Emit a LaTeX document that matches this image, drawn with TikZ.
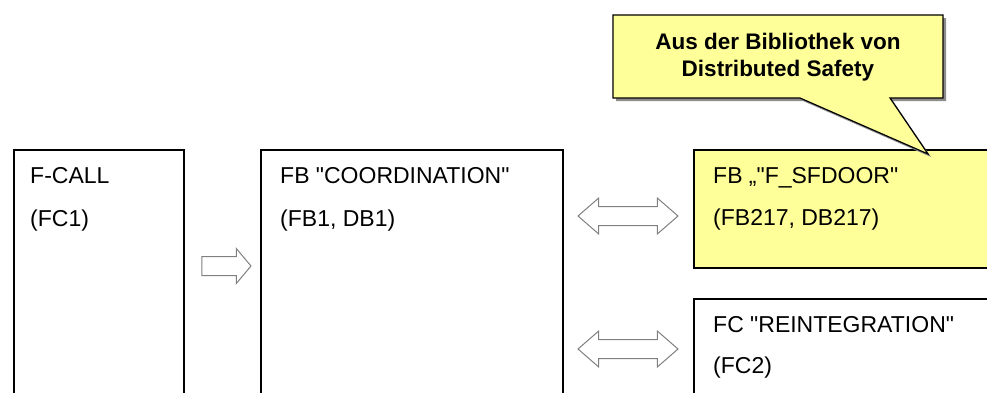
\documentclass[tikz,border=0pt]{standalone}
\usepackage{fontspec}
\setmainfont{Liberation Sans}
\newfontfamily\boxfont{Liberation Sans}
\usepackage{tikz}
\usetikzlibrary{shapes.arrows}
\usetikzlibrary{positioning}

\definecolor{noteyellow}{HTML}{FFFF99}
\definecolor{arrowgray}{HTML}{808080}
\definecolor{shadowgray}{HTML}{8C8C8C}

\tikzset{
	block/.style={rectangle, draw=black, line width=1.5pt, inner sep=0pt, anchor=north west},
	blocktext/.style={anchor=base west, inner sep=0pt, font=\boxfont\fontsize{23}{27}\selectfont},
	callarrow/.style={single arrow, draw=arrowgray, fill=white, line width=1pt,
		inner xsep=0pt, inner ysep=9pt, single arrow head extend=8pt, single arrow tip angle=100},
	swaparrow/.style={double arrow, draw=arrowgray, fill=white, line width=1pt,
		inner xsep=0pt, inner ysep=9pt, double arrow head extend=8.5pt, double arrow tip angle=82},
	notebox/.style={draw=black, line width=1.2pt, fill=noteyellow, line join=miter},
	notetext/.style={align=center, inner sep=0pt, font=\bfseries\fontsize{22.5}{27}\selectfont}
}

\begin{document}
\begin{tikzpicture}[x=1pt, y=-1pt]
	\useasboundingbox (0,0) rectangle (987,392);
	\clip (0,0) rectangle (987,392);

	% the blocks, cut off at the bottom and right
	\node[block, minimum width=170pt, minimum height=300pt] (fcall) at (13,149) {};
	\node[block, minimum width=302pt, minimum height=300pt] (coord) at (260,149) {};
	\node[block, fill=noteyellow, minimum width=320pt, minimum height=118pt] (sfdoor) at (693,149) {};
	\node[block, minimum width=320pt, minimum height=150pt] (reint) at (693,298) {};

	\node[blocktext] (fcallname) at ([xshift=17pt, yshift=-34pt]fcall.north west) {F-CALL};
	\node[blocktext] (fcallnum) at ([yshift=-43pt]fcallname.base west) {(FC1)};
	\node[blocktext] (coordname) at ([xshift=20pt, yshift=-34pt]coord.north west) {FB "COORDINATION"};
	\node[blocktext] (coordnum) at ([yshift=-43pt]coordname.base west) {(FB1, DB1)};
	\node[blocktext] (sfdoorname) at ([xshift=20pt, yshift=-34pt]sfdoor.north west) {FB „"F\_SFDOOR"};
	\node[blocktext] (sfdoornum) at ([yshift=-42pt]sfdoorname.base west) {(FB217, DB217)};
	\node[blocktext] (reintname) at ([xshift=20pt, yshift=-34pt]reint.north west) {FC "REINTEGRATION"};
	\node[blocktext] (reintnum) at ([yshift=-41pt]reintname.base west) {(FC2)};

	% block arrows
	\node[callarrow, minimum height=49pt] (callarr) at (222.5,266) {};
	\node[swaparrow, minimum height=100pt] (swapup) at (628,216) {};
	\node[swaparrow, minimum height=100pt] (swapdown) at (628,349) {};

	% callout
	\coordinate (tip) at (928,154);
	\fill[shadowgray] (616,18) -- (946,18) -- (946,101) -- (893,101) -- (931,157)
		-- (803,101) -- (616,101) -- cycle;
	\draw[notebox] (613,15) -- (943,15) -- (943,98) -- (890,98) -- (tip)
		-- (800,98) -- (613,98) -- cycle;
	\node[notetext] (note) at (778,57.6) {Aus der Bibliothek von\\Distributed Safety};
\end{tikzpicture}
\end{document}
